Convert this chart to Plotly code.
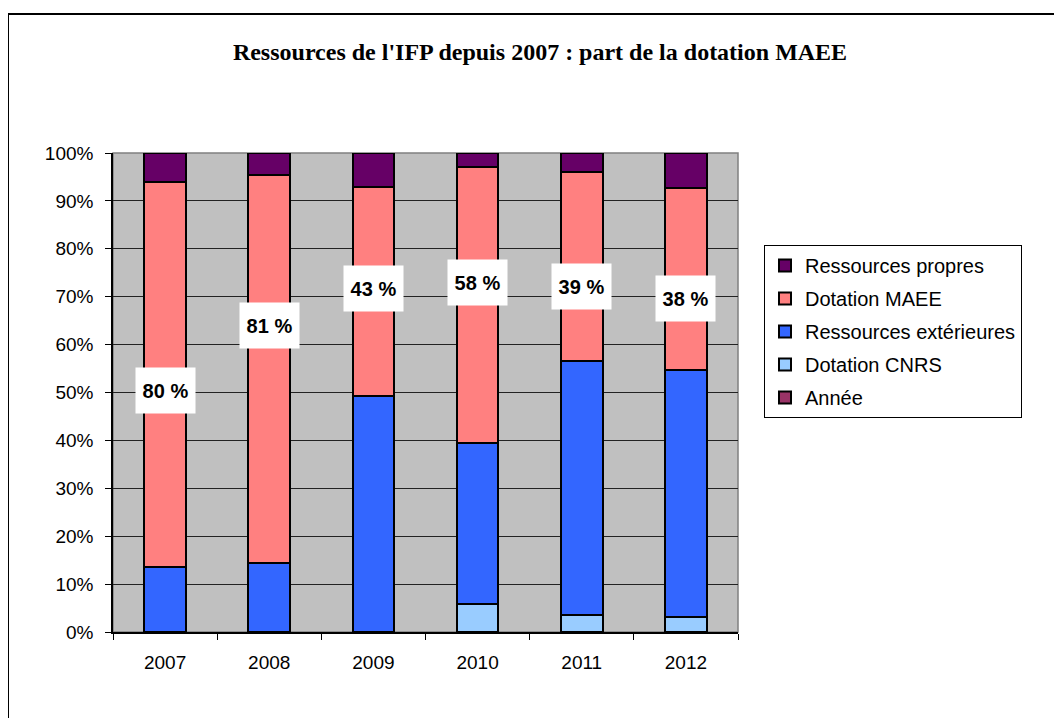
import plotly.graph_objects as go

years = ["2007", "2008", "2009", "2010", "2011", "2012"]
dotation_cnrs = [0.0, 0.0, 0.0, 5.8, 3.5, 3.2]
ressources_ext = [13.6, 14.5, 49.3, 33.6, 53.1, 51.4]
dotation_maee = [80.3, 81.0, 43.5, 57.7, 39.4, 38.1]
ressources_propres = [6.1, 4.5, 7.2, 2.9, 4.0, 7.3]
annee = [0, 0, 0, 0, 0, 0]
label_texts = ["80 %", "81 %", "43 %", "58 %", "39 %", "38 %"]
label_heights = [50.4, 63.9, 71.7, 73.0, 72.1, 69.7]

W, H = 1062, 718
OFF = 8  # page body offset
ML, MT = 113 - OFF, 153 - OFF
PW, PH = 625, 479
MR, MB = W - ML - PW, H - MT - PH

font_sans = "Liberation Sans, Arial, sans-serif"
xpos = list(range(len(years)))

fig = go.Figure()
series = [
    ("Année", annee, "#993366", 5),
    ("Dotation CNRS", dotation_cnrs, "#99CCFF", 4),
    ("Ressources extérieures", ressources_ext, "#3366FF", 3),
    ("Dotation MAEE", dotation_maee, "#FF8080", 2),
    ("Ressources propres", ressources_propres, "#660066", 1),
]
for name, vals, color, rank in series:
    fig.add_trace(go.Bar(
        x=xpos, y=vals, name=name, legendgroup=name, legendrank=rank,
        marker=dict(color=color, line=dict(color="black", width=2)),
        width=0.4,
    ))

for i, (txt, h) in enumerate(zip(label_texts, label_heights)):
    fig.add_annotation(
        x=xpos[i], y=h, xref="x", yref="y", text="<b>" + txt + "</b>", showarrow=False,
        font=dict(family=font_sans, size=20, color="black"),
        bgcolor="white", width=57, height=43, borderpad=1,
    )

# outer chart border (top and left visible)
fig.add_shape(type="rect", xref="paper", yref="paper",
              x0=(8 - OFF - ML) / PW, x1=(W + 20 - ML) / PW,
              y0=-(H + 20 - (MT + PH)) / PH, y1=(MT + PH - (14 - OFF)) / PH,
              line=dict(color="black", width=2), layer="below")
# plot area frame (gray)
fig.add_shape(type="rect", xref="paper", yref="paper", x0=0, x1=1, y0=0, y1=1,
              line=dict(color="#808080", width=1.5), layer="below")

fig.update_layout(
    width=W, height=H,
    margin=dict(l=ML, r=MR, t=MT, b=MB),
    barmode="stack",
    paper_bgcolor="white",
    plot_bgcolor="#C0C0C0",
    title=dict(
        text="<b>Ressources de l'IFP depuis 2007 : part de la dotation MAEE</b>",
        font=dict(family="Liberation Serif, Times New Roman, serif", size=24, color="black"),
        x=(540 - OFF) / W, xref="container", xanchor="center",
        y=1 - (52 - OFF) / H, yref="container", yanchor="middle",
    ),
    legend=dict(
        x=(764 - 113) / PW, xanchor="left", y=(632 - 245) / PH, yanchor="top",
        bgcolor="white", bordercolor="black", borderwidth=1,
        font=dict(family=font_sans, size=20, color="black"),
        traceorder="grouped", tracegroupgap=4,
    ),
    xaxis=dict(
        range=[-0.5, len(years) - 0.5], showgrid=False, zeroline=False,
        showline=True, linecolor="black", linewidth=1.5,
        tickvals=xpos, ticktext=years, ticks="",
        tickfont=dict(family=font_sans, size=19, color="black"),
        ticklabelstandoff=12,
        minor=dict(tickvals=[i - 0.5 for i in range(len(years) + 1)],
                   ticks="outside", ticklen=6, tickcolor="black", showgrid=False),
    ),
    yaxis=dict(
        range=[0, 100], dtick=10, ticksuffix="%", showgrid=True, gridcolor="#222222", gridwidth=1,
        showline=True, linecolor="black", linewidth=1.5, zeroline=False,
        ticks="outside", ticklen=6, tickcolor="black",
        tickfont=dict(family=font_sans, size=19, color="black"),
        ticklabelstandoff=8,
    ),
    showlegend=True,
)

fig.write_html("out.html")
